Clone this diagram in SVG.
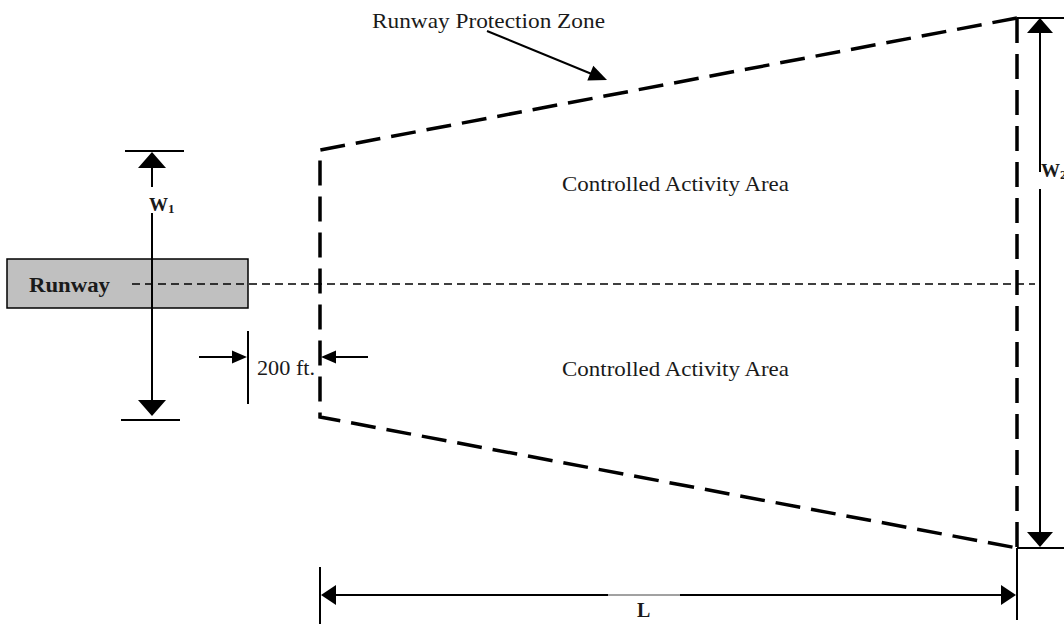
<svg xmlns="http://www.w3.org/2000/svg" width="1064" height="624" viewBox="0 0 1064 624">
<style>
.t{font-family:"Liberation Serif","Times New Roman",serif;fill:#1a1a1a}
.b{font-weight:bold}
.ln{stroke:#000;stroke-width:2;fill:none}
.ah{fill:#000}
.zone{stroke:#000;stroke-width:3.5;fill:none;stroke-dasharray:25 11}
.cl{stroke:#000;stroke-width:1.5;fill:none;stroke-dasharray:8 5}
</style>
<rect width="1064" height="624" fill="#fff"/>
<g id="runway">
<rect x="7" y="259" width="241" height="49" fill="#c0c0c0" stroke="#000" stroke-width="1.5"/>
<text class="t b" x="29" y="292" font-size="20" textLength="81" lengthAdjust="spacingAndGlyphs">Runway</text>
</g>
<g id="protection-zone">
<polyline class="zone" points="1017,18 320,150 320,417 1017,548"/>
<line class="zone" x1="1017" y1="18" x2="1017" y2="548"/>
</g>
<g id="centerline">
<line class="cl" x1="132" y1="284" x2="1035" y2="284"/>
</g>
<g id="connectors">
<!-- W1 -->
<line class="ln" x1="125" y1="151" x2="184" y2="151"/>
<line class="ln" x1="121" y1="420" x2="180" y2="420"/>
<line class="ln" x1="152" y1="160" x2="152" y2="187"/>
<line class="ln" x1="152" y1="213" x2="152" y2="408"/>
<polygon class="ah" points="152,152 138,168 166,168"/>
<polygon class="ah" points="152,416 138,400 166,400"/>
<!-- W2 -->
<line class="ln" x1="1017" y1="18" x2="1064" y2="18"/>
<line class="ln" x1="1017" y1="548" x2="1064" y2="548"/>
<line class="ln" x1="1040" y1="26" x2="1040" y2="172"/>
<line class="ln" x1="1040" y1="189" x2="1040" y2="540"/>
<polygon class="ah" points="1040,18 1027,33 1053,33"/>
<polygon class="ah" points="1040,547 1027,532 1053,532"/>
<!-- 200 ft -->
<line class="ln" x1="248" y1="331" x2="248" y2="404"/>
<line class="ln" x1="199" y1="357" x2="236" y2="357"/>
<polygon class="ah" points="247,357 232,350.5 232,363.5"/>
<line class="ln" x1="333" y1="357" x2="368" y2="357"/>
<polygon class="ah" points="321,357 336,350.5 336,363.5"/>
<!-- L -->
<line class="ln" x1="320" y1="567" x2="320" y2="624"/>
<line class="ln" x1="1017" y1="548" x2="1017" y2="620"/>
<line class="ln" x1="330" y1="595" x2="608" y2="595"/>
<line stroke="#444" stroke-width="1" x1="608" y1="595" x2="680" y2="595"/>
<line class="ln" x1="680" y1="595" x2="1006" y2="595"/>
<polygon class="ah" points="321,595 336,585 336,605"/>
<polygon class="ah" points="1016,595 1001,585 1001,605"/>
<!-- RPZ leader -->
<line class="ln" x1="487" y1="31" x2="593" y2="74.5"/>
<polygon class="ah" points="607,80 587.3,80.6 593.3,65.8"/>
</g>
<g id="labels">
<text class="t" x="372" y="28" font-size="21" textLength="233" lengthAdjust="spacingAndGlyphs">Runway Protection Zone</text>
<text class="t" x="562" y="191" font-size="21" textLength="227" lengthAdjust="spacingAndGlyphs">Controlled Activity Area</text>
<text class="t" x="562" y="376" font-size="21" textLength="227" lengthAdjust="spacingAndGlyphs">Controlled Activity Area</text>
<text class="t" x="257" y="375" font-size="21" textLength="58" lengthAdjust="spacingAndGlyphs">200 ft.</text>
<text class="t b" x="149" y="211" font-size="19">W<tspan font-size="13" dy="2">1</tspan></text>
<text class="t b" x="1041" y="177" font-size="19">W<tspan font-size="13" dy="2">2</tspan></text>
<text class="t b" x="637" y="617" font-size="20">L</text>
</g>
</svg>
